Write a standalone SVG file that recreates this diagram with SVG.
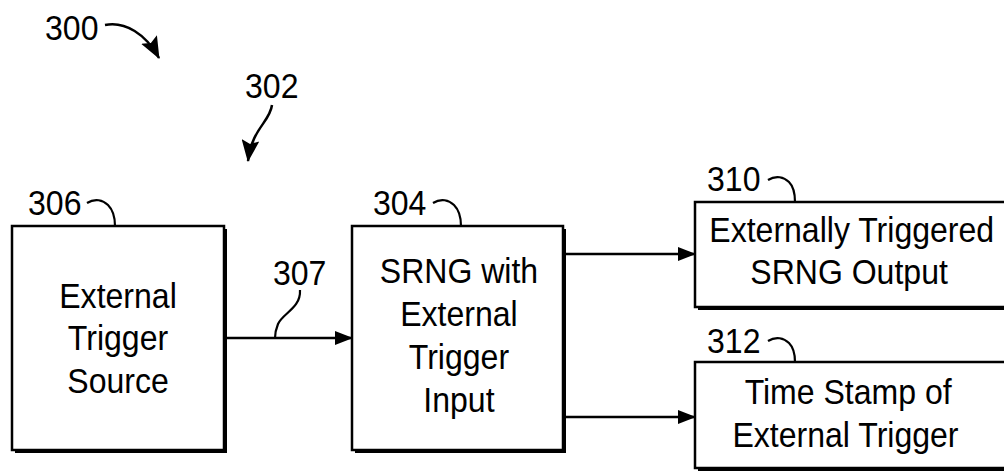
<svg xmlns="http://www.w3.org/2000/svg" width="1004" height="473" viewBox="0 0 1004 473">
<style>
  text { font-family: "Liberation Sans", Arial, sans-serif; font-size: 36px; fill: #000; }
  .c { text-anchor: middle; }
  .box { fill: #fff; stroke: #000; stroke-width: 2.5; }
  .shadow { fill: #000; }
  .line { fill: none; stroke: #000; stroke-width: 2.5; }
  .lead { fill: none; stroke: #000; stroke-width: 2.2; }
</style>
<defs>
  <marker id="arrow" markerUnits="userSpaceOnUse" markerWidth="18" markerHeight="14" refX="17" refY="7" orient="auto">
    <path d="M0,0 L18,7 L0,14 z" fill="#000"/>
  </marker>
  <marker id="arrowBig" markerUnits="userSpaceOnUse" markerWidth="22" markerHeight="18" refX="21" refY="9" orient="auto">
    <path d="M0,0 L22,9 L0,18 L4,9 z" fill="#000"/>
  </marker>
</defs>

<g id="ref-300">
  <g transform="scale(0.89,1)"><text x="50.6" y="40">300</text></g>
  <path class="line" d="M105,25 C125,21 146,34 159,58" marker-end="url(#arrowBig)"/>
</g>

<g id="ref-302">
  <g transform="scale(0.89,1)"><text x="275.3" y="98">302</text></g>
  <path class="line" d="M272,105 C270,122 252,128 248,161" marker-end="url(#arrowBig)"/>
</g>

<g id="node-306">
  <rect class="shadow" x="15" y="229" width="212" height="224"/>
  <rect class="box" x="12" y="226" width="212" height="224"/>
  <g transform="scale(0.89,1)">
    <text class="c" x="132.6" y="308">External</text>
    <text class="c" x="132.6" y="350">Trigger</text>
    <text class="c" x="132.6" y="393">Source</text>
    <text x="31.5" y="215">306</text>
  </g>
  <path class="lead" d="M87,203 C95,198 103,200 108,205 C113,210 115,217 115,226"/>
</g>

<g id="node-304">
  <rect class="shadow" x="355" y="229" width="211" height="224"/>
  <rect class="box" x="352" y="226" width="211" height="224"/>
  <g transform="scale(0.89,1)">
    <text class="c" x="515.7" y="283">SRNG with</text>
    <text class="c" x="515.7" y="326">External</text>
    <text class="c" x="515.7" y="369">Trigger</text>
    <text class="c" x="515.7" y="412">Input</text>
    <text x="419.1" y="215">304</text>
  </g>
  <path class="lead" d="M433,203 C441,198 449,200 454,205 C459,210 461,217 461,226"/>
</g>

<g id="node-310">
  <rect class="shadow" x="698" y="205" width="320" height="105"/>
  <rect class="box" x="695" y="202" width="320" height="105"/>
  <g transform="scale(0.89,1)">
    <text class="c" x="957" y="242">Externally Triggered</text>
    <text class="c" x="954" y="284">SRNG Output</text>
    <text x="794.4" y="191">310</text>
  </g>
  <path class="lead" d="M768,180 C776,175 784,177 789,182 C794,187 795,194 795,202"/>
</g>

<g id="node-312">
  <rect class="shadow" x="698" y="365" width="320" height="106"/>
  <rect class="box" x="695" y="362" width="320" height="106"/>
  <g transform="scale(0.89,1)">
    <text class="c" x="953" y="404">Time Stamp of</text>
    <text class="c" x="950" y="447">External Trigger</text>
    <text x="794.4" y="353">312</text>
  </g>
  <path class="lead" d="M768,341 C776,336 784,338 789,343 C794,348 795,354 795,362"/>
</g>

<g id="connectors">
  <path class="line" d="M225,338 L352,338" marker-end="url(#arrow)"/>
  <g transform="scale(0.89,1)"><text x="306.7" y="285">307</text></g>
  <path class="lead" d="M300,290 C301,308 283,313 278,324 C276,329 275,334 275,338"/>
  <path class="line" d="M566,254 L695,254" marker-end="url(#arrow)"/>
  <path class="line" d="M566,417 L695,417" marker-end="url(#arrow)"/>
</g>
</svg>
